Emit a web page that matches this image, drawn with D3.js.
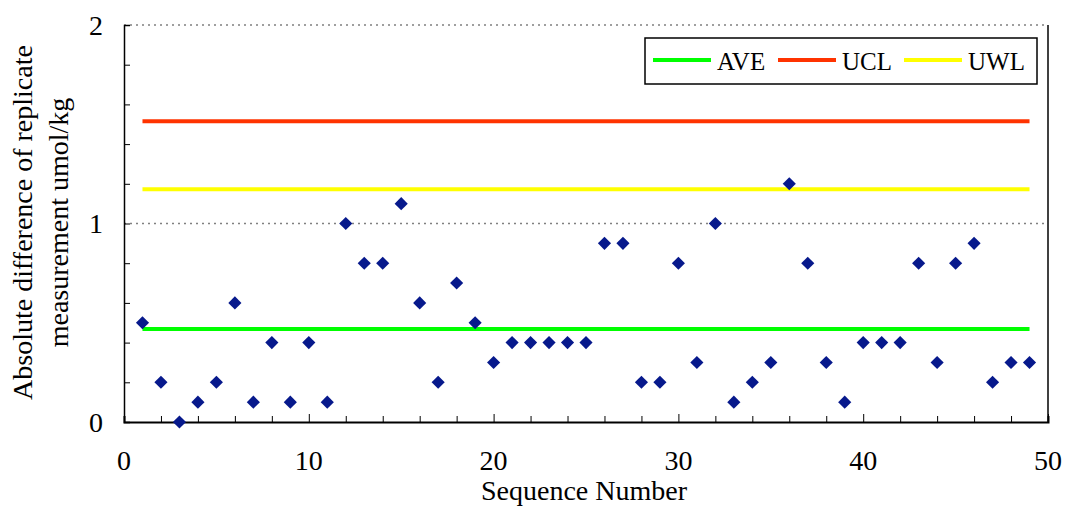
<!DOCTYPE html>
<html>
<head>
<meta charset="utf-8">
<script src="https://cdn.jsdelivr.net/npm/d3@7"></script>
<style>
  body { margin: 0; background: #fff; }
</style>
</head>
<body>
<div id="chart"></div>
<script>
// ===============================
// Data
// ===============================
const sequence = d3.range(1, 50);
const absDiff = [
    0.5, 0.2, 0.0, 0.1, 0.2, 0.6, 0.1, 0.4, 0.1, 0.4,
    0.1, 1.0, 0.8, 0.8, 1.1, 0.6, 0.2, 0.7, 0.5, 0.3,
    0.4, 0.4, 0.4, 0.4, 0.4, 0.9, 0.9, 0.2, 0.2, 0.8,
    0.3, 1.0, 0.1, 0.2, 0.3, 1.2, 0.8, 0.3, 0.1, 0.4,
    0.4, 0.4, 0.8, 0.3, 0.8, 0.9, 0.2, 0.3, 0.3
];
const limitNames = ["AVE", "UCL", "UWL"];
const limitValues = [0.468, 1.515, 1.173];
const limitColors = ["#00ff00", "#ff3300", "#ffff00"];
const xTicks = [0, 10, 20, 30, 40, 50];
const yTicks = [0, 1, 2];

// ===============================
// Layout
// ===============================
const W = 1067, H = 506;
const margin = { top: 25, right: 19, bottom: 84, left: 124 };
const width = W - margin.left - margin.right;
const height = H - margin.top - margin.bottom;
const serif = "Liberation Serif";

const svg = d3.select("#chart").append("svg")
    .attr("width", W)
    .attr("height", H)
    .attr("font-family", serif);

const g = svg.append("g")
    .attr("transform", `translate(${margin.left},${margin.top})`);

const x = d3.scaleLinear().domain([0, 50]).range([0, width]);
const y = d3.scaleLinear().domain([0, 2]).range([height, 0]);

// dotted gridlines at 1 and 2
g.selectAll(".grid")
    .data([1, 2])
    .enter()
    .append("line")
    .attr("class", "grid")
    .attr("x1", 0)
    .attr("x2", width)
    .attr("y1", d => y(d))
    .attr("y2", d => y(d))
    .attr("stroke", "#808080")
    .attr("stroke-width", 1.5)
    .attr("stroke-dasharray", "2,4");

// right border
g.append("line")
    .attr("x1", width).attr("x2", width)
    .attr("y1", 0).attr("y2", height)
    .attr("stroke", "#000").attr("stroke-width", 1.5);

// y axis: inward minor ticks every 0.2
const yAxis = d3.axisRight(y)
    .tickValues(d3.range(0, 2.01, 0.2))
    .tickSize(6)
    .tickFormat("");
g.append("g").call(yAxis)
    .call(a => a.select(".domain").attr("stroke", "#000").attr("stroke-width", 1.5))
    .call(a => a.selectAll(".tick line").attr("stroke", "#000").attr("stroke-width", 1));

g.selectAll(".ylab")
    .data(yTicks)
    .enter()
    .append("text")
    .attr("class", "ylab")
    .attr("x", -21)
    .attr("y", d => y(d) + 9.5)
    .attr("text-anchor", "end")
    .attr("font-family", serif)
    .attr("font-size", "28px")
    .text(d => d);

// x axis: inward ticks every 2, longer at 10s
const xAxis = d3.axisTop(x)
    .tickValues(d3.range(0, 51, 2))
    .tickSize(6)
    .tickFormat("");
g.append("g")
    .attr("transform", `translate(0,${height})`)
    .call(xAxis)
    .call(a => a.select(".domain").attr("stroke", "#000").attr("stroke-width", 2))
    .call(a => a.selectAll(".tick line")
        .attr("stroke", "#000")
        .attr("stroke-width", 1)
        .attr("y2", d => d % 10 === 0 ? -8 : -6));

g.selectAll(".xlab")
    .data(xTicks)
    .enter()
    .append("text")
    .attr("class", "xlab")
    .attr("x", d => x(d))
    .attr("y", height + 48)
    .attr("text-anchor", "middle")
    .attr("font-family", serif)
    .attr("font-size", "28px")
    .text(d => d);

// axis titles
g.append("text")
    .attr("x", width / 2 - 2)
    .attr("y", height + 78)
    .attr("text-anchor", "middle")
    .attr("font-family", serif)
    .attr("font-size", "28px")
    .text("Sequence Number");

const yTitle = g.append("text")
    .attr("transform", `translate(${-92},${height / 2 - 1}) rotate(-90)`)
    .attr("text-anchor", "middle")
    .attr("font-family", serif)
    .attr("font-size", "28px");
yTitle.append("tspan").attr("x", 0).attr("dy", 0).text("Absolute difference of replicate");
yTitle.append("tspan").attr("x", 0).attr("dy", 36).text("measurement umol/kg");

// control limit lines
const limits = limitNames.map((n, i) => ({ name: n, value: limitValues[i], color: limitColors[i] }));
g.selectAll(".limit")
    .data(limits)
    .enter()
    .append("line")
    .attr("class", "limit")
    .attr("x1", x(sequence[0]))
    .attr("x2", x(sequence[sequence.length - 1]))
    .attr("y1", d => y(d.value))
    .attr("y2", d => y(d.value))
    .attr("stroke", d => d.color)
    .attr("stroke-width", 4);

// data points (diamonds)
const diamond = d3.symbol().type(d3.symbolDiamond2).size(110);
g.selectAll(".pt")
    .data(sequence.map((s, i) => ({ s, v: absDiff[i] })))
    .enter()
    .append("path")
    .attr("class", "pt")
    .attr("d", diamond)
    .attr("transform", d => `translate(${x(d.s)},${y(d.v)})`)
    .attr("fill", "#07198c");

// legend
const legend = svg.append("g").attr("transform", "translate(645,38)");
legend.append("rect")
    .attr("width", 392)
    .attr("height", 46)
    .attr("fill", "#fff")
    .attr("stroke", "#000")
    .attr("stroke-width", 1.5);

const legendX = [8, 133, 259];
const items = legend.selectAll(".item")
    .data(limits)
    .enter()
    .append("g")
    .attr("transform", (d, i) => `translate(${legendX[i]},0)`);
items.append("line")
    .attr("x1", 0).attr("x2", 58)
    .attr("y1", 22).attr("y2", 22)
    .attr("stroke", d => d.color)
    .attr("stroke-width", 4);
items.append("text")
    .attr("x", 64)
    .attr("y", 32)
    .attr("font-family", serif)
    .attr("font-size", "25px")
    .text(d => d.name);
</script>
</body>
</html>
